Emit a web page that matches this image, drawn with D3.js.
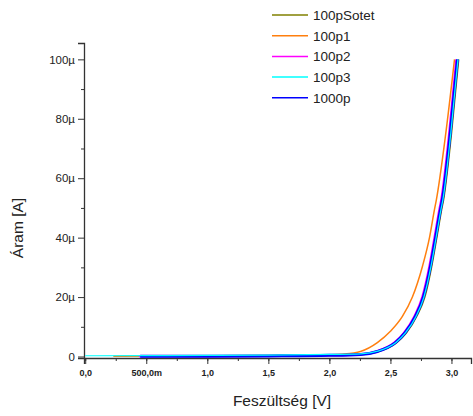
<!DOCTYPE html>
<html>
<head>
<meta charset="utf-8">
<script src="https://cdn.jsdelivr.net/npm/d3@7"></script>
<style>
  body { margin: 0; background: #fff; }
  svg text { font-family: Arial, "Liberation Sans", sans-serif; fill: #222; }
</style>
</head>
<body>
<div id="chart"></div>
<script>
// series: [voltage V, current µA]
const series = ["100pSotet", "100p1", "100p2", "100p3", "1000p"];
const colors = ["#808000", "#ff7f0e", "#ff00ff", "#00ffff", "#0000ff"];

const sotet = [[0.46,0.05],[1.0,0.1],[1.5,0.2],[2.0,0.4],[2.26,0.7],[2.40,1.7],[2.55,4.7],[2.63,8],[2.713,13.5],[2.78,20],[2.836,30.3],[2.878,40],[2.918,49.5],[2.934,52.9],[2.998,75],[3.057,100]];
const p1 = [[0.23,0.1],[1.0,0.2],[1.5,0.3],[1.8,0.4],[2.0,0.6],[2.1,0.8],[2.2,1.2],[2.254,1.7],[2.393,4.7],[2.5,8.5],[2.598,13.5],[2.68,20],[2.762,30.3],[2.82,40],[2.861,49.5],[2.877,52.9],[2.95,74],[3.025,100]];
const p2 = [[0.44,0.05],[1.0,0.1],[1.5,0.2],[2.0,0.4],[2.244,0.7],[2.383,1.7],[2.531,4.7],[2.61,8],[2.695,13.5],[2.76,20],[2.818,30.3],[2.86,40],[2.900,49.5],[2.916,52.9],[2.98,75],[3.039,100]];
const p3 = [[0.0,0.25],[0.5,0.3],[1.0,0.35],[1.5,0.45],[2.0,0.7],[2.258,0.9],[2.397,1.8],[2.545,4.7],[2.624,8],[2.709,13.5],[2.774,20],[2.832,30.3],[2.874,40],[2.914,49.5],[2.930,52.9],[2.994,75],[3.053,100]];
const p1000 = [[0.45,0.05],[1.0,0.1],[1.5,0.2],[2.0,0.4],[2.254,0.7],[2.393,1.7],[2.541,4.7],[2.62,8],[2.705,13.5],[2.77,20],[2.828,30.3],[2.87,40],[2.910,49.5],[2.926,52.9],[2.99,75],[3.049,100]];
const data = [sotet, p1, p2, p3, p1000];

const xTicks = [0, 0.5, 1.0, 1.5, 2.0, 2.5, 3.0];
const xTickLabels = ["0,0", "500,0m", "1,0", "1,5", "2,0", "2,5", "3,0"];
const yTicks = [0, 20, 40, 60, 80, 100];
const yTickLabels = ["0", "20µ", "40µ", "60µ", "80µ", "100µ"];

const width = 473, height = 416;
const margin = { top: 43, right: 2, bottom: 58, left: 84 };

const svg = d3.select("#chart").append("svg")
    .attr("width", width)
    .attr("height", height);

const x = d3.scaleLinear().domain([-0.01, 3.16]).range([margin.left, width - margin.right]);
const y = d3.scaleLinear().domain([-0.5, 105.5]).range([height - margin.bottom, margin.top]);

// X axis (minor ticks, then major ticks with labels)
svg.append("g")
    .attr("transform", "translate(0," + (height - margin.bottom) + ")")
    .call(d3.axisBottom(x).tickValues(d3.range(0, 3.2, 0.25)).tickSize(3).tickFormat(""));
svg.append("g")
    .attr("transform", "translate(0," + (height - margin.bottom) + ")")
    .call(d3.axisBottom(x).tickValues(xTicks).tickSize(6)
        .tickFormat((d, i) => xTickLabels[i]))
    .call(g => g.selectAll(".tick text").attr("font-size", "9px").attr("font-weight", "bold").attr("dy", "1.05em"))
    .call(g => g.select(".domain").attr("stroke-width", 1.3));

// Y axis
svg.append("g")
    .attr("transform", "translate(" + margin.left + ",0)")
    .call(d3.axisLeft(y).tickValues(d3.range(10, 110, 20)).tickSize(3).tickFormat(""))
    .call(g => g.select(".domain").remove());
svg.append("g")
    .attr("transform", "translate(" + margin.left + ",0)")
    .call(d3.axisLeft(y).tickValues(yTicks).tickSize(6)
        .tickFormat((d, i) => yTickLabels[i]))
    .call(g => g.selectAll(".tick text").attr("font-size", "11.5px"))
    .call(g => g.select(".domain").attr("stroke-width", 1.3));

svg.selectAll(".tick line").attr("stroke", "#333");
svg.selectAll(".domain").attr("stroke", "#333");

// curves
const line = d3.line()
    .x(d => x(d[0]))
    .y(d => y(d[1]))
    .curve(d3.curveMonotoneX);

const widths = [2, 1.5, 2, 1.2, 3];
const order = [0, 1, 2, 4, 3];
order.forEach(i => {
  svg.append("path")
      .datum(data[i])
      .attr("fill", "none")
      .attr("stroke", colors[i])
      .attr("stroke-width", widths[i])
      .attr("d", line);
});

// axis labels
svg.append("text")
    .attr("text-anchor", "middle")
    .attr("x", 282)
    .attr("y", 406)
    .attr("font-size", "15.5px")
    .text("Feszültség [V]");

svg.append("text")
    .attr("text-anchor", "middle")
    .attr("transform", "translate(23,228) rotate(-90)")
    .attr("font-size", "15.5px")
    .text("Áram [A]");

// legend
const legend = svg.append("g").attr("transform", "translate(272,15)");
series.forEach((s, i) => {
  const g = legend.append("g").attr("transform", "translate(0," + (i * 20.7) + ")");
  g.append("line")
      .attr("x1", 0).attr("x2", 36)
      .attr("y1", 0).attr("y2", 0)
      .attr("stroke", colors[i])
      .attr("stroke-width", 1.5);
  g.append("text")
      .attr("x", 41)
      .attr("y", 5)
      .attr("font-size", "13.5px")
      .text(s);
});
</script>
</body>
</html>
